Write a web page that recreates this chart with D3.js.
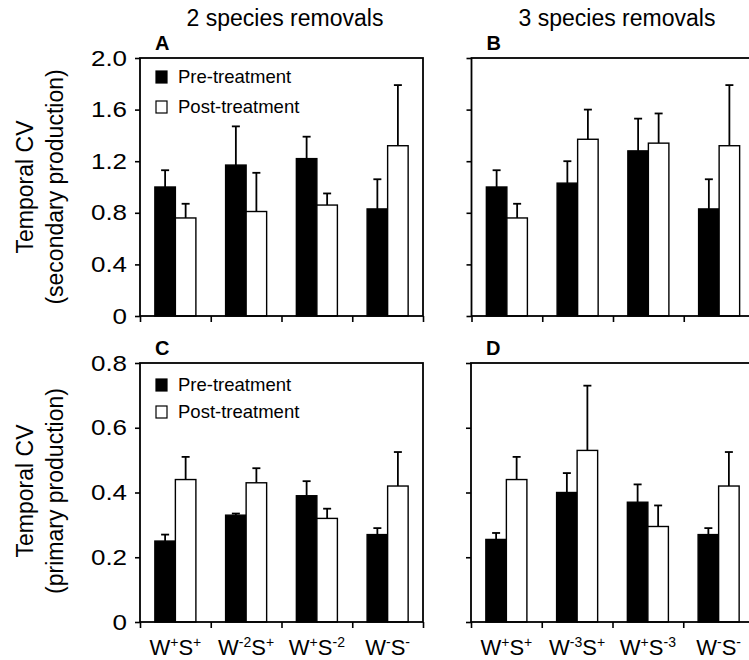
<!DOCTYPE html>
<html>
  <head>
    <meta charset="utf-8">
    <title>Temporal CV</title>
    <style>
      body { margin: 0; background: white; }
      svg { font-family: Arial, "Liberation Sans", sans-serif; }
    </style>
    <script src="https://d3js.org/d3.v7.min.js"></script>
  </head>
  <body>
    <svg></svg>
    <script>
      var width = 749;
      var height = 660;

      // category labels, ^ starts a superscript
      var groups2 = ["W^+S^+", "W^-2S^+", "W^+S^-2", "W^-S^-"];
      var groups3 = ["W^+S^+", "W^-3S^+", "W^+S^-3", "W^-S^-"];
      var seriesNames = ["Pre-treatment", "Post-treatment"];

      // secondary production (A: 2 species, B: 3 species)
      var secPre2 = [1.00, 1.17, 1.22, 0.83];
      var secPreErr2 = [0.13, 0.30, 0.17, 0.23];
      var secPost2 = [0.76, 0.81, 0.86, 1.32];
      var secPostErr2 = [0.11, 0.30, 0.09, 0.47];
      var secPre3 = [1.00, 1.03, 1.28, 0.83];
      var secPreErr3 = [0.13, 0.17, 0.25, 0.23];
      var secPost3 = [0.76, 1.37, 1.34, 1.32];
      var secPostErr3 = [0.11, 0.23, 0.23, 0.47];

      // primary production (C: 2 species, D: 3 species)
      var priPre2 = [0.25, 0.33, 0.39, 0.27];
      var priPreErr2 = [0.02, 0.005, 0.045, 0.02];
      var priPost2 = [0.44, 0.43, 0.32, 0.42];
      var priPostErr2 = [0.07, 0.045, 0.03, 0.105];
      var priPre3 = [0.255, 0.40, 0.37, 0.27];
      var priPreErr3 = [0.02, 0.06, 0.055, 0.02];
      var priPost3 = [0.44, 0.53, 0.295, 0.42];
      var priPostErr3 = [0.07, 0.20, 0.065, 0.105];

      var secTicks = [0, 0.4, 0.8, 1.2, 1.6, 2.0];
      var secTickLabels = ["0", "0.4", "0.8", "1.2", "1.6", "2.0"];
      var priTicks = [0, 0.2, 0.4, 0.6, 0.8];
      var priTickLabels = ["0", "0.2", "0.4", "0.6", "0.8"];

      var svg = d3.select("svg").attr("width", width).attr("height", height);

      function drawPanel(opt) {
        var g = svg.append("g").attr("transform", "translate(" + opt.left + "," + opt.top + ")");
        var w = opt.w, h = opt.h;

        var x = d3.scaleBand().domain(d3.range(opt.groups.length)).range([0, w]);
        var inner = d3.scaleBand().domain([0, 1]).range([x.bandwidth() * 0.21, x.bandwidth() * 0.79]);
        var y = d3.scaleLinear().domain([0, opt.max]).range([h, 0]);

        var rows = opt.groups.map(function(d, i) {
          return [
            { i: i, s: 0, v: opt.pre[i], e: opt.preErr[i] },
            { i: i, s: 1, v: opt.post[i], e: opt.postErr[i] }
          ];
        });
        var bars = [].concat.apply([], rows);

        // error bars (upper only)
        var eb = g.append("g").selectAll("g").data(bars).enter().append("g")
          .attr("transform", function(d) { return "translate(" + (x(d.i) + inner(d.s) + inner.bandwidth() / 2) + ",0)"; });
        eb.append("line")
          .attr("y1", function(d) { return y(d.v); })
          .attr("y2", function(d) { return y(d.v + d.e); })
          .attr("stroke", "black").attr("stroke-width", 1.8);
        eb.append("line")
          .attr("x1", -4).attr("x2", 4)
          .attr("y1", function(d) { return y(d.v + d.e); })
          .attr("y2", function(d) { return y(d.v + d.e); })
          .attr("stroke", "black").attr("stroke-width", 1.8);

        g.append("g").selectAll("rect").data(bars).enter().append("rect")
          .attr("x", function(d) { return x(d.i) + inner(d.s); })
          .attr("y", function(d) { return y(d.v); })
          .attr("width", inner.bandwidth())
          .attr("height", function(d) { return h - y(d.v); })
          .attr("fill", function(d) { return d.s === 0 ? "black" : "white"; })
          .attr("stroke", "black").attr("stroke-width", 1.4);

        // axes
        var yAxis = d3.axisLeft(y).tickValues(opt.ticks).tickSize(5).tickPadding(6)
          .tickFormat(function(d, i) { return opt.showLabels ? opt.tickLabels[i] : ""; });
        var ya = g.append("g").call(yAxis);
        ya.select(".domain").remove();
        ya.selectAll("line").attr("stroke-width", 1.6);
        ya.selectAll("text").attr("font-size", 22).attr("transform", "scale(1.18,1)")
          .attr("font-family", "Arial, 'Liberation Sans', sans-serif").attr("fill", "black");

        var xt = d3.scaleLinear().domain([0, opt.groups.length]).range([0, w]);
        var xAxis = d3.axisBottom(xt).tickValues(d3.range(opt.groups.length + 1)).tickSize(6).tickFormat("");
        var xa = g.append("g").attr("transform", "translate(0," + h + ")").call(xAxis);
        xa.select(".domain").remove();
        xa.selectAll("line").attr("stroke-width", 1.6);
        xa.selectAll("text").remove();

        g.append("rect").attr("width", w).attr("height", h)
          .attr("fill", "none").attr("stroke", "black").attr("stroke-width", 1.8);

        // panel letter
        g.append("text").attr("x", 15).attr("y", -8)
          .attr("font-size", 20).attr("font-weight", "bold").text(opt.letter);

        // legend
        if (opt.legend) {
          var lg = g.append("g").selectAll("g").data(seriesNames).enter().append("g")
            .attr("transform", function(d, i) { return "translate(16," + (opt.legendY + i * opt.legendStep) + ")"; });
          lg.append("rect").attr("x", 0).attr("y", -12).attr("width", 11).attr("height", 12)
            .attr("fill", function(d, i) { return i === 0 ? "black" : "white"; })
            .attr("stroke", "black").attr("stroke-width", 1.2);
          lg.append("text").attr("x", 22).attr("y", 0).attr("font-size", 18.5).text(function(d) { return d; });
        }

        // category labels with superscripts
        if (opt.showCats) {
          var cats = g.append("g").selectAll("text").data(opt.groups).enter().append("text")
            .attr("x", function(d, i) { return x(i) + x.bandwidth() / 2; })
            .attr("y", h + 33)
            .attr("text-anchor", "middle")
            .attr("font-size", 22);
          cats.each(function(d) {
            var t = d3.select(this);
            var parts = d.match(/[A-Z]\^[^A-Z]+/g);
            parts.forEach(function(p, k) {
              var base = p.split("^")[0], sup = p.split("^")[1];
              t.append("tspan").attr("dy", k === 0 ? 0 : 8).attr("font-size", 22).text(base);
              t.append("tspan").attr("dy", -8).attr("font-size", 14).text(sup);
            });
          });
        }
        return g;
      }

      var colW = 283, rowH = 258;

      drawPanel({ left: 140, top: 58, w: colW, h: rowH, max: 2.0, groups: groups2, letter: "A",
        pre: secPre2, preErr: secPreErr2, post: secPost2, postErr: secPostErr2,
        ticks: secTicks, tickLabels: secTickLabels, showLabels: true, legend: true,
        legendY: 25, legendStep: 30, showCats: false });
      drawPanel({ left: 471.5, top: 58, w: colW, h: rowH, max: 2.0, groups: groups3, letter: "B",
        pre: secPre3, preErr: secPreErr3, post: secPost3, postErr: secPostErr3,
        ticks: secTicks, tickLabels: secTickLabels, showLabels: false, legend: false, showCats: false });
      drawPanel({ left: 140, top: 363, w: colW, h: 259, max: 0.8, groups: groups2, letter: "C",
        pre: priPre2, preErr: priPreErr2, post: priPost2, postErr: priPostErr2,
        ticks: priTicks, tickLabels: priTickLabels, showLabels: true, legend: true,
        legendY: 28, legendStep: 27, showCats: true });
      drawPanel({ left: 471, top: 363, w: colW, h: 259, max: 0.8, groups: groups3, letter: "D",
        pre: priPre3, preErr: priPreErr3, post: priPost3, postErr: priPostErr3,
        ticks: priTicks, tickLabels: priTickLabels, showLabels: false, legend: false, showCats: true });

      // column titles
      svg.append("text").attr("x", 285).attr("y", 26).attr("text-anchor", "middle")
        .attr("font-size", 23).text("2 species removals");
      svg.append("text").attr("x", 617).attr("y", 26).attr("text-anchor", "middle")
        .attr("font-size", 23).text("3 species removals");

      // y axis titles
      function yTitle(cy, line2) {
        var t = svg.append("g").attr("transform", "translate(0," + cy + ") rotate(-90)")
          .attr("text-anchor", "middle");
        t.append("text").attr("x", 0).attr("y", 33).attr("font-size", 23).text("Temporal CV");
        t.append("text").attr("x", 0).attr("y", 63).attr("font-size", 23).text(line2);
      }
      yTitle(187, "(secondary production)");
      yTitle(491, "(primary production)");
    </script>
  </body>
</html>
